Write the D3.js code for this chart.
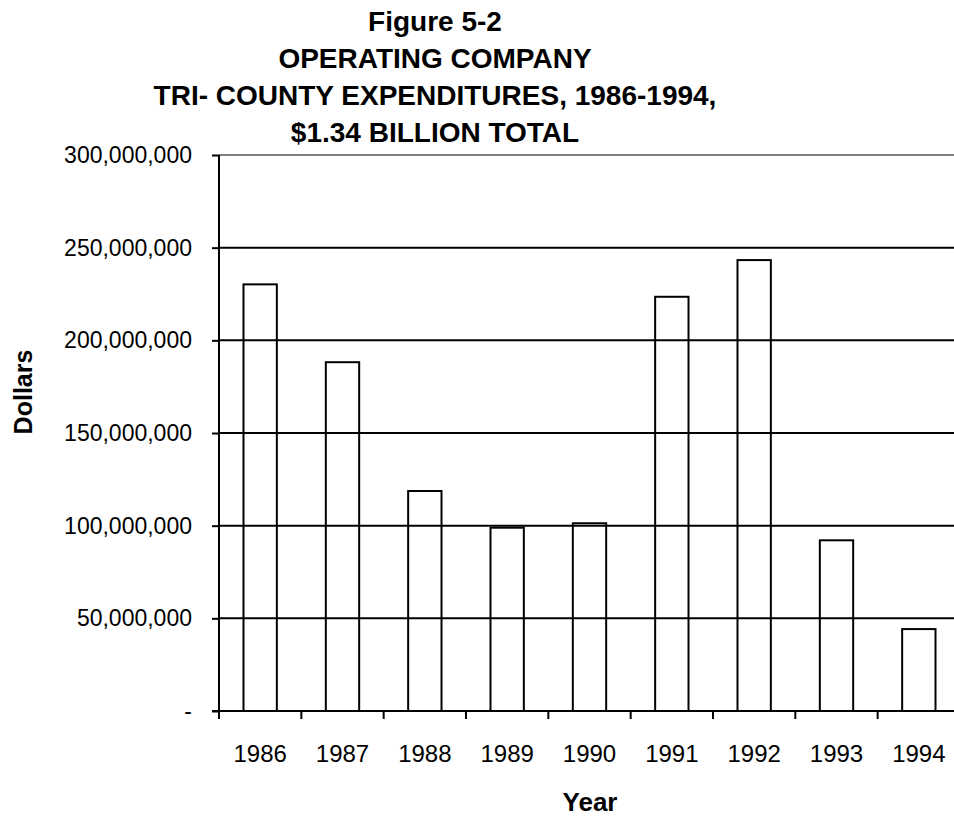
<!DOCTYPE html>
<html><head><meta charset="utf-8">
<script src="https://cdn.jsdelivr.net/npm/d3@7"></script>
<style>body{margin:0;background:#fff}svg{display:block}text{font-family:"Liberation Sans",Arial,sans-serif;fill:#000}</style>
</head><body><svg id="c" width="954" height="817"></svg>
<script>
const years = ["1986","1987","1988","1989","1990","1991","1992","1993","1994"];
const dollars = [230200000,188200000,118700000,98900000,101300000,223500000,243300000,92100000,44200000];
const yTicks = [0,50000000,100000000,150000000,200000000,250000000,300000000];
const titleLines = ["Figure 5-2","OPERATING COMPANY","TRI- COUNTY EXPENDITURES, 1986-1994,","$1.34 BILLION TOTAL"];

const svg = d3.select("#c");
const L = 219, R = 960, T = 155, B = 711;
const x = d3.scaleBand().domain(years).range([L, R]).paddingInner(0.595).paddingOuter(0.2975);
const y = d3.scaleLinear().domain([0, 300000000]).range([B, T]);
const step = x.step();

// gridlines
svg.append("g").selectAll("line").data(yTicks.filter(d => d > 0)).join("line")
  .attr("x1", L).attr("x2", 954).attr("y1", d => y(d)).attr("y2", d => y(d))
  .attr("stroke", d => d === 300000000 ? "#808080" : "#000").attr("stroke-width", 2);

// bars
svg.append("g").selectAll("rect").data(years).join("rect")
  .attr("x", d => x(d)).attr("width", x.bandwidth())
  .attr("y", (d, i) => y(dollars[i])).attr("height", (d, i) => B - y(dollars[i]))
  .attr("fill", "none").attr("stroke", "#000").attr("stroke-width", 2);

// y axis
const fmt = d3.format(",");
const ya = svg.append("g").attr("transform", `translate(${L},0)`)
  .call(d3.axisLeft(y).tickValues(yTicks).tickSize(7).tickPadding(20).tickFormat(d => d === 0 ? "-" : fmt(d)));
ya.select(".domain").attr("stroke-width", 2).attr("d", `M0,${T}V${B + 8}`);
ya.selectAll(".tick line").attr("stroke-width", 2);
ya.selectAll(".tick text").attr("font-size", 23).attr("font-family", "Liberation Sans, Arial, sans-serif");

// x axis
const xa = svg.append("g").attr("transform", `translate(0,${B})`)
  .call(d3.axisBottom(x).tickSize(0).tickPadding(34));
xa.select(".domain").attr("stroke-width", 2).attr("d", `M${L - 7},0H954`);
xa.selectAll(".tick text").attr("font-size", 24).attr("font-family", "Liberation Sans, Arial, sans-serif");
svg.append("g").selectAll("line").data(years.concat(["end"])).join("line")
  .attr("x1", (d, i) => L + i * step).attr("x2", (d, i) => L + i * step)
  .attr("y1", B).attr("y2", B + 8).attr("stroke", "#000").attr("stroke-width", 2);

// titles
svg.append("g").selectAll("text").data(titleLines).join("text")
  .attr("x", 435).attr("y", (d, i) => 31 + i * 37).attr("text-anchor", "middle")
  .attr("font-size", 28).attr("font-weight", "bold").text(d => d);

svg.append("text").attr("x", 590).attr("y", 811).attr("text-anchor", "middle")
  .attr("font-size", 26).attr("font-weight", "bold").text("Year");
svg.append("text").attr("transform", "translate(32,392) rotate(-90)").attr("text-anchor", "middle")
  .attr("font-size", 25).attr("font-weight", "bold").text("Dollars");
</script></body></html>
